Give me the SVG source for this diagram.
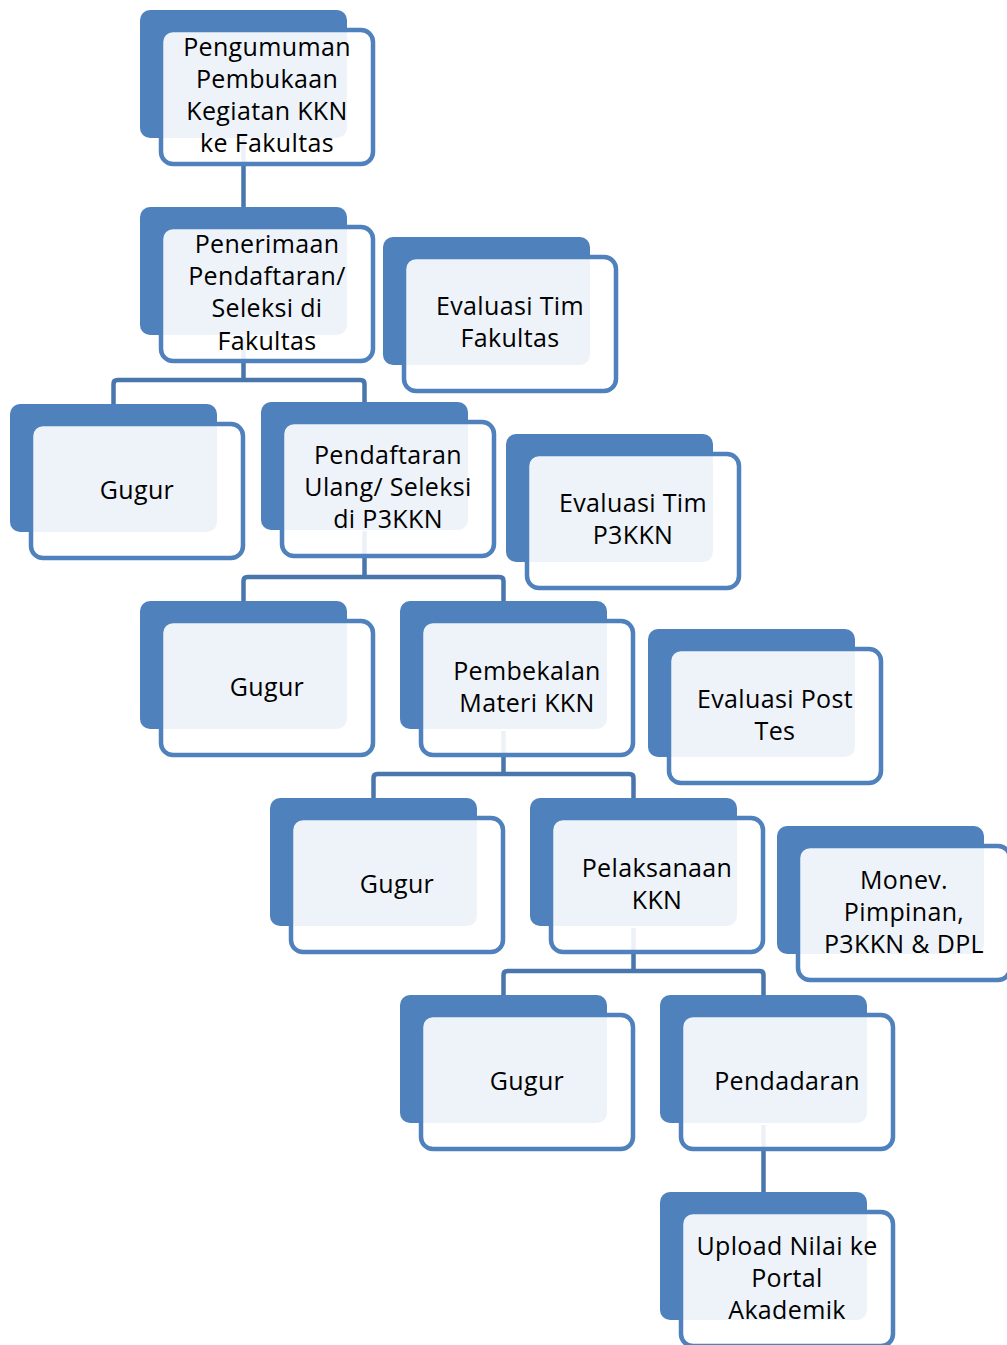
<svg xmlns="http://www.w3.org/2000/svg" width="1007" height="1345" viewBox="0 0 1007 1345">
<style>
.bk{fill:#4F81BD}
.fr{fill:#FFFFFF;fill-opacity:0.9;stroke:#4F81BD;stroke-width:4.5}
.cn{fill:none;stroke:#4A76AE;stroke-width:4.5;stroke-linejoin:round}
text{font-family:"Open Sans","Noto Sans","Liberation Sans",sans-serif;font-size:25px;letter-spacing:0.35px;fill:#000;text-anchor:middle}
</style>
<rect width="1007" height="1345" fill="#FFFFFF"/>
<g id="connectors">
<path class="cn" d="M243.5,137 V207"/>
<path class="cn" d="M243.5,337 V380 M113.5,404 V384 Q113.5,380 117.5,380 H360.5 Q364.5,380 364.5,384 V402"/>
<path class="cn" d="M364.5,531 V577 M243.5,601 V581 Q243.5,577 247.5,577 H499.5 Q503.5,577 503.5,581 V601"/>
<path class="cn" d="M503.5,731 V774 M373.5,798 V778 Q373.5,774 377.5,774 H629.5 Q633.5,774 633.5,778 V798"/>
<path class="cn" d="M633.5,928 V971 M503.5,995 V975 Q503.5,971 507.5,971 H759.5 Q763.5,971 763.5,975 V995"/>
<path class="cn" d="M763.5,1125 V1192"/>
</g>
<g id="n1"><rect class="bk" x="140" y="10" width="207" height="128" rx="10"/><rect class="fr" x="161" y="30" width="212" height="134" rx="12"/>
<text x="267" y="56">Pengumuman</text><text x="267" y="88">Pembukaan</text><text x="267" y="120">Kegiatan KKN</text><text x="267" y="152">ke Fakultas</text></g>
<g id="n2"><rect class="bk" x="140" y="207" width="207" height="128" rx="10"/><rect class="fr" x="161" y="227" width="212" height="134" rx="12"/>
<text x="267" y="253">Penerimaan</text><text x="267" y="285">Pendaftaran/</text><text x="267" y="317">Seleksi di</text><text x="267" y="350">Fakultas</text></g>
<g id="n3"><rect class="bk" x="383" y="237" width="207" height="128" rx="10"/><rect class="fr" x="404" y="257" width="212" height="134" rx="12"/>
<text x="510" y="315">Evaluasi Tim</text><text x="510" y="347">Fakultas</text></g>
<g id="n4"><rect class="bk" x="10" y="404" width="207" height="128" rx="10"/><rect class="fr" x="31" y="424" width="212" height="134" rx="12"/>
<text x="137" y="499">Gugur</text></g>
<g id="n5"><rect class="bk" x="261" y="402" width="207" height="128" rx="10"/><rect class="fr" x="282" y="422" width="212" height="134" rx="12"/>
<text x="388" y="464">Pendaftaran</text><text x="388" y="496">Ulang/ Seleksi</text><text x="388" y="528">di P3KKN</text></g>
<g id="n6"><rect class="bk" x="506" y="434" width="207" height="128" rx="10"/><rect class="fr" x="527" y="454" width="212" height="134" rx="12"/>
<text x="633" y="512">Evaluasi Tim</text><text x="633" y="544">P3KKN</text></g>
<g id="n7"><rect class="bk" x="140" y="601" width="207" height="128" rx="10"/><rect class="fr" x="161" y="621" width="212" height="134" rx="12"/>
<text x="267" y="696">Gugur</text></g>
<g id="n8"><rect class="bk" x="400" y="601" width="207" height="128" rx="10"/><rect class="fr" x="421" y="621" width="212" height="134" rx="12"/>
<text x="527" y="680">Pembekalan</text><text x="527" y="712">Materi KKN</text></g>
<g id="n9"><rect class="bk" x="648" y="629" width="207" height="128" rx="10"/><rect class="fr" x="669" y="649" width="212" height="134" rx="12"/>
<text x="775" y="708">Evaluasi Post</text><text x="775" y="740">Tes</text></g>
<g id="n10"><rect class="bk" x="270" y="798" width="207" height="128" rx="10"/><rect class="fr" x="291" y="818" width="212" height="134" rx="12"/>
<text x="397" y="893">Gugur</text></g>
<g id="n11"><rect class="bk" x="530" y="798" width="207" height="128" rx="10"/><rect class="fr" x="551" y="818" width="212" height="134" rx="12"/>
<text x="657" y="877">Pelaksanaan</text><text x="657" y="909">KKN</text></g>
<g id="n12"><rect class="bk" x="777" y="826" width="207" height="128" rx="10"/><rect class="fr" x="798" y="846" width="212" height="134" rx="12"/>
<text x="904" y="889">Monev.</text><text x="904" y="921">Pimpinan,</text><text x="904" y="953">P3KKN &amp; DPL</text></g>
<g id="n13"><rect class="bk" x="400" y="995" width="207" height="128" rx="10"/><rect class="fr" x="421" y="1015" width="212" height="134" rx="12"/>
<text x="527" y="1090">Gugur</text></g>
<g id="n14"><rect class="bk" x="660" y="995" width="207" height="128" rx="10"/><rect class="fr" x="681" y="1015" width="212" height="134" rx="12"/>
<text x="787" y="1090">Pendadaran</text></g>
<g id="n15"><rect class="bk" x="660" y="1192" width="207" height="128" rx="10"/><rect class="fr" x="681" y="1212" width="212" height="134" rx="12"/>
<text x="787" y="1255">Upload Nilai ke</text><text x="787" y="1287">Portal</text><text x="787" y="1319">Akademik</text></g>
</svg>
